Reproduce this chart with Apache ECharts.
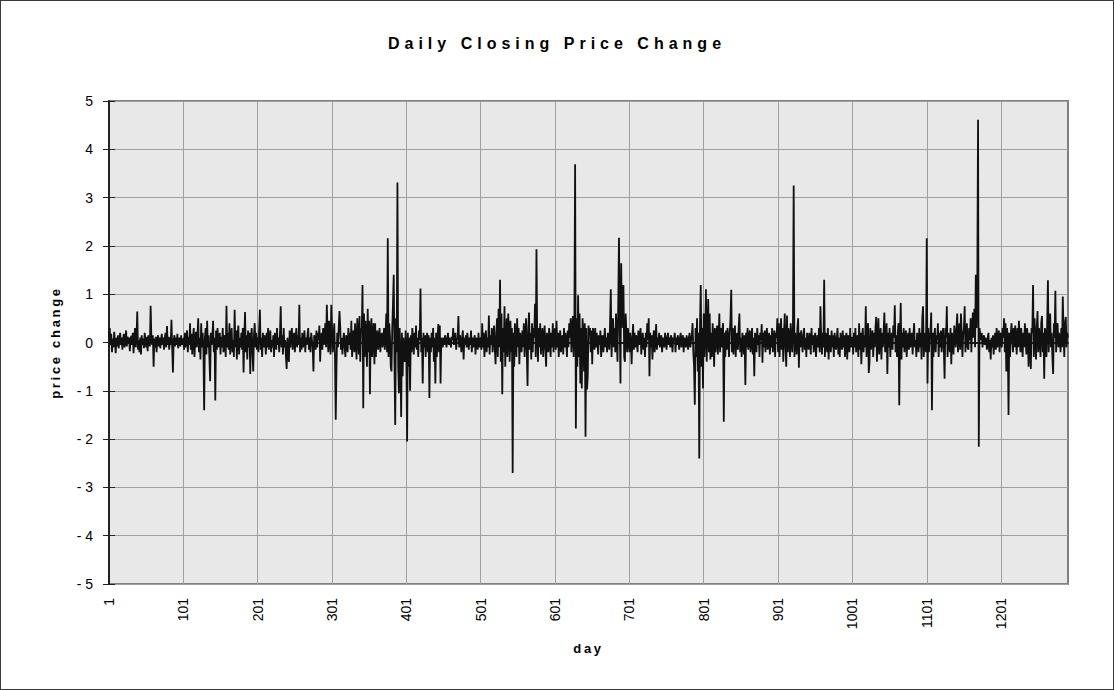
<!DOCTYPE html>
<html>
<head>
<meta charset="utf-8">
<title>Daily Closing Price Change</title>
<script src="https://cdn.jsdelivr.net/npm/echarts@6/dist/echarts.min.js"></script>
<style>
  body { margin: 0; background: #fff; }
  #chart { width: 1114px; height: 690px; box-sizing: border-box; border: 1px solid #3a3a3a; }
</style>
</head>
<body>
<div id="chart"></div>
<script>
  // price change per day, 100 days per block
  var seg01 = [
    0.12, 0.3, -0.05, 0.18, -0.2, 0.08, -0.1, 0.22, 0.02, -0.22,
    0.1, -0.08, 0.15, -0.12, 0.05, 0.2, -0.05, 0.1, -0.15, 0.08,
    0.18, -0.1, 0.05, 0.25, -0.08, 0.12, -0.02, 0.1, -0.18, 0.05,
    0.14, -0.05, 0.2, -0.22, 0.08, 0.3, -0.1, 0.1, 0.64, -0.15,
    0.05, -0.2, 0.1, -0.25, 0.15, -0.05, 0.08, -0.12, 0.2, 0.05,
    -0.1, 0.12, -0.18, 0.15, 0.02, -0.08, 0.76, 0.1, -0.05, 0.15,
    -0.5, 0.08, -0.1, 0.12, -0.2, 0.05, 0.15, -0.08, 0.1, -0.12,
    0.05, 0.18, -0.05, 0.1, -0.15, 0.08, 0.2, -0.1, 0.34, -0.05,
    0.12, -0.15, 0.1, -0.05, 0.47, -0.1, -0.62, 0.05, 0.15, -0.08,
    0.1, -0.05, 0.18, -0.12, 0.05, 0.1, -0.08, 0.15, -0.05, 0.08
  ];
  var seg02 = [
    0.05, -0.15, 0.2, -0.1, 0.08, 0.25, -0.2, 0.12, -0.05, 0.4,
    -0.15, 0.18, -0.25, 0.1, 0.3, -0.3, 0.05, 0.22, -0.1, 0.15,
    0.5, -0.2, 0.1, -0.35, 0.4, -0.1, 0.2, -0.15, -1.4, 0.1,
    0.3, -0.25, 0.45, -0.1, 0.15, -0.3, -0.8, 0.2, -0.05, 0.1,
    0.45, -0.2, 0.1, -1.2, 0.25, -0.15, 0.3, -0.1, 0.05, 0.2,
    -0.25, 0.12, -0.1, 0.3, -0.2, 0.15, 0.05, -0.3, 0.76, -0.1,
    0.2, -0.15, 0.4, -0.25, 0.1, 0.3, -0.2, 0.05, -0.3, 0.68,
    -0.1, 0.25, -0.35, 0.15, 0.35, -0.25, 0.1, -0.1, 0.2, -0.15,
    0.3, -0.62, 0.1, 0.63, -0.2, 0.15, -0.35, 0.25, -0.1, 0.2,
    -0.65, 0.1, 0.3, -0.2, -0.6, 0.15, 0.4, -0.1, 0.2, -0.15
  ];
  var seg03 = [
    0.1, -0.2, 0.3, 0.68, -0.15, 0.1, -0.3, 0.2, -0.1, 0.15,
    0.05, -0.25, 0.2, -0.1, 0.3, -0.15, 0.1, 0.25, -0.2, 0.05,
    -0.1, 0.15, -0.3, 0.2, 0.05, -0.15, 0.3, -0.05, 0.1, -0.2,
    0.2, 0.75, -0.1, 0.15, -0.25, 0.3, -0.1, 0.05, -0.3, -0.55,
    0.1, -0.2, -0.4, 0.25, -0.1, 0.15, 0.3, -0.15, 0.05, 0.2,
    -0.2, 0.1, 0.3, -0.1, 0.15, -0.05, 0.78, -0.2, 0.1, -0.15,
    0.2, -0.1, 0.05, 0.25, -0.2, 0.1, -0.05, 0.15, 0.3, -0.15,
    0.1, -0.2, 0.2, 0.05, -0.1, -0.6, 0.15, 0.1, -0.15, 0.25,
    -0.1, 0.2, 0.05, 0.35, -0.4, 0.1, 0.2, -0.15, 0.3, -0.05,
    0.15, 0.4, -0.1, 0.78, 0.2, -0.2, 0.45, 0.1, -0.25, 0.78
  ];
  var seg04 = [
    0.3, -0.2, 0.1, 0.4, -0.3, -1.6, -0.5, 0.2, -0.1, 0.3,
    0.65, 0.34, -0.15, 0.1, -0.25, 0.05, 0.2, -0.1, -0.3, 0.15,
    0.05, -0.2, 0.3, -0.05, 0.2, -0.15, 0.45, -0.3, 0.1, 0.25,
    -0.2, 0.4, 0.05, -0.35, 0.5, 0.15, -0.25, 0.55, -0.4, 0.3,
    0.2, 1.19, -1.36, 0.6, -0.3, 0.45, 0.1, -0.5, 0.7, -0.2,
    0.45, -1.07, 0.2, 0.5, -0.3, 0.15, 0.4, -0.45, 0.4, -0.3,
    0.1, 0.25, -0.15, 0.05, 0.3, -0.2, 0.1, 0.2, -0.1, 0.05,
    0.3, -0.15, 0.15, 0.6, -0.2, 2.16, -0.3, 0.4, 0.1, -0.5,
    -0.6, 0.3, 0.8, 1.4, -0.4, -1.71, 0.5, -0.2, 3.31, -0.5,
    -1.05, 0.3, -0.3, -1.54, 0.2, -0.7, 0.1, -0.2, -0.4, 0.25
  ];
  var seg05 = [
    -0.3, -2.05, 0.2, -0.5, 0.1, -1.0, 0.15, -0.2, 0.3, 0.05,
    -0.25, 0.2, -0.1, 0.35, -0.15, 0.1, -0.3, 0.25, 0.05, 1.12,
    -0.2, 0.1, -0.85, 0.2, -0.1, 0.15, -0.3, 0.1, 0.2, -0.2,
    0.15, -1.15, 0.1, -0.2, 0.2, -0.1, 0.3, -0.4, 0.1, -0.85,
    0.2, -0.3, 0.1, 0.38, -0.2, 0.35, -0.85, 0.1, 0.05, -0.1,
    0.1, -0.05, 0.15, 0.05, -0.1, 0.08, 0.2, -0.05, 0.1, 0.02,
    -0.1, 0.12, 0.05, 0.3, -0.05, 0.1, 0.2, -0.15, 0.05, 0.1,
    0.55, -0.1, 0.15, 0.05, -0.2, 0.1, 0.25, -0.35, 0.1, -0.05,
    0.15, -0.1, 0.2, 0.05, -0.15, 0.1, -0.05, 0.25, -0.2, 0.1,
    -0.1, 0.05, 0.15, -0.25, 0.1, 0.05, -0.15, 0.2, -0.1, 0.05
  ];
  var seg06 = [
    0.1, -0.15, 0.4, -0.1, 0.2, -0.3, 0.05, 0.25, -0.2, 0.1,
    -0.1, 0.56, -0.25, 0.15, -0.05, 0.3, -0.2, 0.1, 0.35, -0.15,
    -0.45, 0.2, 0.5, -0.3, 0.7, -0.1, 1.3, -0.4, 0.6, -1.07,
    0.3, -0.2, 0.75, -0.5, 0.1, 0.5, -0.3, 0.6, 0.2, -0.4,
    0.45, -0.2, 0.3, -2.7, 0.2, -0.5, 0.4, 0.1, -0.3, 0.5,
    -0.1, 0.3, -0.45, 0.2, 0.05, -0.2, 0.25, -0.1, 0.4, -0.3,
    0.1, 0.5, -0.2, -0.9, 0.3, 0.62, -0.15, 0.2, -0.35, 0.4,
    -0.2, 0.3, 0.1, 0.8, -0.3, 1.93, 0.2, -0.4, 0.3, -0.1,
    0.4, -0.25, 0.15, 0.3, -0.3, 0.1, 0.35, -0.15, -0.5, 0.2,
    0.05, -0.2, 0.3, 0.1, -0.3, 0.2, -0.1, 0.4, -0.2, 0.15
  ];
  var seg07 = [
    0.3, -0.15, 0.45, -0.1, 0.2, -0.3, 0.1, 0.25, -0.2, 0.05,
    0.15, -0.25, 0.3, -0.1, 0.2, 0.05, -0.3, 0.25, -0.1, 0.4,
    0.1, 0.5, -0.2, 0.3, 0.55, -0.3, 0.4, 3.69, -1.78, 0.5,
    -0.5, 0.98, -0.3, 0.6, -0.85, 0.3, -0.95, 0.5, 0.2, -0.6,
    0.4, -1.95, 0.3, -0.97, -0.7, 0.35, 0.2, 0.3, -0.2, 0.25,
    -0.45, 0.3, 0.1, -0.15, 0.3, -0.1, 0.2, 0.05, -0.25, 0.15,
    -0.05, 0.25, -0.3, 0.1, 0.15, -0.2, 0.05, 0.3, -0.1, 0.1,
    -0.2, 0.2, 0.05, -0.15, 0.4, 1.1, -0.3, 0.2, 0.5, -0.1,
    0.3, -0.2, 0.6, 0.1, -0.4, 0.8, 2.17, 0.4, -0.85, 1.64,
    0.3, 0.9, 1.19, -0.3, -0.4, 0.6, 0.2, -0.2, 0.3, 0.1
  ];
  var seg08 = [
    -0.2, 0.2, 0.05, -0.45, 0.1, 0.38, -0.15, 0.2, -0.1, 0.15,
    0.05, -0.2, 0.25, -0.05, 0.1, 0.3, -0.25, 0.1, 0.2, -0.15,
    0.1, -0.3, 0.2, -0.1, 0.4, 0.05, 0.5, -0.7, 0.2, -0.1,
    0.15, -0.35, 0.1, 0.25, -0.2, 0.05, 0.38, -0.15, 0.1, -0.05,
    0.2, -0.1, 0.05, 0.15, -0.2, 0.1, 0.05, -0.1, 0.2, 0.05,
    -0.15, 0.1, 0.2, -0.05, 0.1, -0.1, 0.15, 0.05, -0.2, 0.1,
    0.05, 0.2, -0.2, 0.1, -0.05, 0.15, 0.05, -0.15, 0.1, 0.2,
    -0.1, 0.05, 0.15, -0.2, 0.1, 0.05, -0.1, 0.15, 0.02, -0.15,
    0.1, 0.2, -0.1, 0.05, 0.15, 0.4, -0.2, -0.5, -1.29, 0.3,
    -0.3, 0.5, -0.6, 0.2, -2.4, 0.4, 1.19, -0.5, 0.3, -0.95
  ];
  var seg09 = [
    0.6, -0.3, 0.2, 1.1, -0.4, 0.3, 0.9, -0.2, 0.6, -0.35,
    0.2, -0.3, 0.4, 0.1, -0.5, 0.3, -0.2, 0.15, 0.35, -0.25,
    0.1, 0.6, -0.2, 0.3, -0.1, 0.2, 0.4, -1.64, 0.2, -0.3,
    0.25, -0.15, 0.3, 0.1, -0.3, 0.2, 0.5, 1.09, -0.2, 0.3,
    -0.25, 0.15, 0.35, -0.3, 0.1, 0.2, -0.15, 0.3, 0.6, -0.2,
    0.1, -0.3, 0.2, 0.05, -0.25, 0.15, -0.88, 0.2, -0.1, 0.3,
    -0.15, 0.1, 0.25, -0.2, 0.05, 0.3, -0.25, 0.1, -0.7, 0.2,
    0.1, -0.2, 0.3, -0.05, 0.15, -0.3, 0.2, 0.05, 0.38, -0.42,
    0.2, -0.1, 0.25, -0.2, 0.1, 0.3, -0.15, 0.05, 0.2, -0.25,
    0.15, -0.1, 0.3, -0.2, 0.05, 0.25, -0.3, 0.2, 0.1, 0.5
  ];
  var seg10 = [
    -0.2, 0.4, -0.3, 0.1, 0.5, -0.15, 0.3, -0.4, 0.2, 0.6,
    -0.1, -0.5, 0.56, -0.2, 0.3, 0.1, -0.3, 0.4, 0.1, -0.2,
    0.3, 3.25, -0.3, 0.2, 0.05, -0.25, 0.3, 0.5, -0.52, 0.2,
    -0.1, 0.25, 0.05, -0.2, 0.15, 0.3, -0.15, 0.1, -0.3, 0.2,
    0.05, -0.15, 0.2, 0.1, -0.25, 0.3, -0.05, 0.15, -0.2, 0.1,
    0.2, -0.3, 0.05, 0.15, -0.1, 0.3, -0.2, 0.75, 0.1, -0.25,
    0.2, -0.1, 1.3, -0.3, 0.2, 0.1, -0.2, 0.3, -0.35, 0.15,
    0.05, -0.2, 0.25, -0.1, 0.15, -0.3, 0.2, 0.05, -0.15, 0.1,
    0.3, -0.25, 0.1, -0.3, 0.2, 0.05, -0.15, 0.25, -0.1, 0.15,
    -0.3, 0.1, 0.2, -0.35, 0.15, 0.05, -0.2, 0.3, -0.1, 0.1
  ];
  var seg11 = [
    0.1, -0.25, 0.2, -0.1, 0.3, -0.2, 0.05, 0.15, -0.3, 0.4,
    -0.15, 0.2, -0.45, 0.1, 0.3, -0.2, 0.15, -0.1, 0.75, -0.3,
    0.2, 0.4, -0.63, -0.4, 0.3, -0.15, 0.1, 0.25, -0.3, 0.2,
    -0.1, 0.3, 0.53, -0.4, 0.15, 0.5, -0.25, 0.1, 0.3, -0.35,
    0.2, -0.1, 0.25, 0.62, -0.2, 0.1, 0.4, -0.65, 0.2, -0.1,
    0.3, -0.3, 0.1, 0.2, -0.15, 0.35, 0.1, 0.77, -0.2, 0.15,
    -0.3, 0.2, 0.4, -1.3, 0.1, 0.82, -0.35, 0.2, -0.1, 0.3,
    -0.2, 0.1, 0.25, -0.3, 0.05, 0.2, -0.15, 0.3, -0.1, 0.1,
    0.2, -0.25, 0.15, 0.4, -0.1, 0.05, -0.3, 0.2, 0.1, -0.2,
    0.3, -0.1, 0.2, -0.35, 0.5, 0.75, -0.3, 0.1, 0.2, -0.2
  ];
  var seg12 = [
    2.16, -0.85, 0.3, -0.2, 0.15, 0.2, 0.62, -1.4, 0.2, -0.3,
    0.1, 0.3, -0.2, 0.15, 0.05, 0.4, -0.3, 0.2, -0.1, 0.25,
    -0.2, 0.1, 0.3, -0.15, -0.75, 0.3, 0.1, 0.75, -0.3, 0.2,
    0.05, -0.2, 0.3, -0.45, 0.2, 0.1, -0.25, 0.35, 0.15, -0.1,
    0.3, 0.6, -0.2, 0.1, 0.4, -0.15, 0.6, 0.2, -0.3, 0.15,
    0.3, 0.75, -0.2, 0.1, 0.4, -0.1, -0.15, 0.3, 0.05, 0.5,
    -0.2, 0.3, 0.62, 0.1, 0.7, -0.1, 1.4, 0.3, 1.2, 4.61,
    -2.16, 0.3, 0.15, 0.05, 0.2, -0.1, 0.1, 0.15, -0.05, 0.1,
    0.05, -0.15, 0.1, 0.2, -0.2, 0.05, -0.35, 0.1, -0.1, 0.15,
    -0.25, 0.05, 0.2, -0.15, 0.3, -0.1, 0.1, 0.25, -0.2, 0.15
  ];
  var seg13 = [
    0.2, -0.1, 0.3, 0.1, 0.5, -0.2, 0.4, -0.6, 0.3, 0.1,
    -1.5, 0.2, -0.3, 0.15, 0.4, 0.1, -0.2, 0.3, -0.1, 0.35,
    0.05, -0.25, 0.3, -0.1, 0.45, 0.1, -0.2, 0.3, 0.05, -0.3,
    0.2, -0.1, 0.4, 0.1, -0.25, 0.3, 0.05, -0.5, 0.2, 0.1,
    -0.55, 0.3, 0.2, 1.19, -0.3, 0.5, 0.1, -0.35, 0.3, 0.65,
    -0.2, 0.3, 0.1, -0.3, 0.4, 0.55, -0.2, 0.2, -0.75, 0.3,
    0.1, -0.3, 0.4, 1.29, -0.2, 0.3, 0.6, -0.1, 0.2, -0.3,
    -0.65, 0.4, 0.1, 1.07, -0.2, 0.3, 0.4, -0.1, 0.2, 0.1,
    -0.2, 0.3, -0.1, 0.95, 0.2, -0.3, 0.4, 0.53, -0.1, 0.2,
    0.1
  ];

  var priceChange = [].concat(seg01, seg02, seg03, seg04, seg05, seg06, seg07,
    seg08, seg09, seg10, seg11, seg12, seg13);
  // day numbers 1..n are the categories
  var days = priceChange.map(function (v, i) { return String(i + 1); });

  var yMin = -5, yMax = 5, yStep = 1;
  var dayStep = 100;

  var titleText = 'Daily Closing Price Change';
  var xName = 'day';
  var yName = 'price change';

  var font = 'Arial, "Liberation Sans", sans-serif';
  var chart = echarts.init(document.getElementById('chart'), null, { renderer: 'svg' });

  var option = {
    animation: false,
    title: {
      text: titleText,
      left: 'center',
      top: 29,
      textStyle: { fontFamily: font, fontSize: 16, fontWeight: 'bold', color: '#000' }
    },
    grid: {
      left: 108, right: 45, top: 100, bottom: 105,
      show: true,
      backgroundColor: '#e8e8e8',
      borderColor: '#808080',
      borderWidth: 2
    },
    xAxis: [{
      type: 'category',
      data: days,
      boundaryGap: false,
      name: xName,
      nameLocation: 'middle',
      nameGap: 58,
      nameTextStyle: { fontFamily: font, fontSize: 13, fontWeight: 'bold', color: '#000' },
      axisLine: { lineStyle: { color: '#222', width: 2 } },
      axisTick: { interval: dayStep - 1, length: 5, lineStyle: { color: '#222' } },
      axisLabel: { interval: dayStep - 1, rotate: 90, margin: 14, fontSize: 14, color: '#000', fontFamily: font },
      splitLine: { show: true, interval: dayStep - 1, lineStyle: { color: '#a0a0a0', width: 1 } }
    }, {
      // only for the tick marks that go up into the plot
      type: 'category',
      data: days,
      boundaryGap: false,
      position: 'bottom',
      axisLine: { show: false },
      axisTick: { inside: true, interval: dayStep - 1, length: 5, lineStyle: { color: '#222' } },
      axisLabel: { show: false },
      splitLine: { show: false }
    }],
    yAxis: [{
      type: 'value',
      min: yMin, max: yMax, interval: yStep,
      name: yName,
      nameLocation: 'middle',
      nameGap: 47,
      nameTextStyle: { fontFamily: font, fontSize: 13, fontWeight: 'bold', color: '#000' },
      axisLine: { show: true, lineStyle: { color: '#222', width: 2 } },
      axisTick: { show: true, length: 6, lineStyle: { color: '#222' } },
      axisLabel: {
        margin: 16, fontSize: 14, color: '#000', fontFamily: font,
        formatter: function (v) { return v < 0 ? '- ' + (-v) : String(v); }
      },
      splitLine: { show: true, lineStyle: { color: '#a0a0a0', width: 1 } }
    }, {
      type: 'value',
      min: yMin, max: yMax, interval: yStep,
      position: 'left',
      axisLine: { show: false },
      axisTick: { show: true, inside: true, length: 6, lineStyle: { color: '#222' } },
      axisLabel: { show: false },
      splitLine: { show: false }
    }],
    series: [{
      name: yName,
      type: 'line',
      data: priceChange,
      showSymbol: false,
      symbol: 'none',
      lineStyle: { color: '#111', width: 1.8 }
    }]
  };

  chart.setOption(option);

  // the bold texts of the original are spread out
  var spacing = {};
  spacing[titleText] = '5px';
  spacing[xName] = '2.7px';
  spacing[yName] = '2.7px';
  var texts = document.querySelectorAll('#chart svg text');
  for (var i = 0; i < texts.length; i++) {
    var s = spacing[texts[i].textContent];
    if (s) {
      texts[i].style.letterSpacing = s;
    }
  }
</script>
</body>
</html>
